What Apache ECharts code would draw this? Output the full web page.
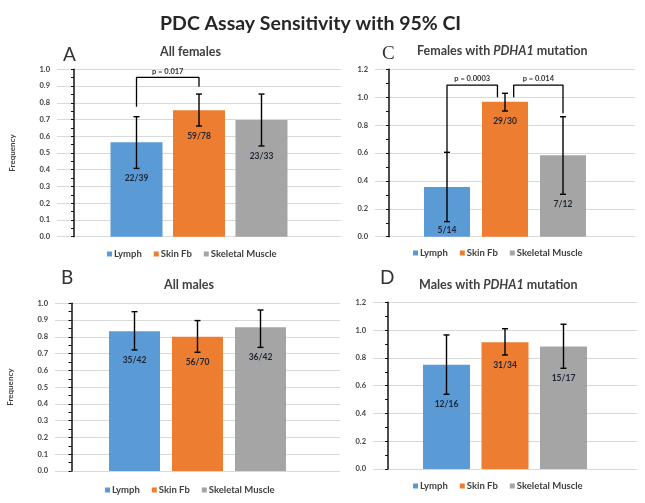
<!DOCTYPE html>
<html><head><meta charset="utf-8">
<script src="https://cdn.jsdelivr.net/npm/echarts@6/dist/echarts.min.js"></script>
<style>html,body{margin:0;padding:0;background:#fff}#c{width:645px;height:503px}</style>
</head><body><div id="c"></div><script>
// ---------- data ----------
const seriesNames = ['Lymph', 'Skin Fb', 'Skeletal Muscle'];
const barPositions = [1, 2, 3];

// A: All females
const fractionsA = ['22/39', '59/78', '23/33'];
const valuesA = [0.564, 0.756, 0.697];
const lowerA = [0.408, 0.661, 0.542];
const upperA = [0.717, 0.852, 0.852];
const bracketsA = [{ p: 'p = 0.017', from: 1, to: 2, top: 0.952, fromEnd: 0.777, toEnd: 0.896 }];

// C: Females with PDHA1 mutation
const fractionsC = ['5/14', '29/30', '7/12'];
const valuesC = [0.357, 0.967, 0.583];
const lowerC = [0.108, 0.901, 0.304];
const upperC = [0.605, 1.028, 0.860];
const bracketsC = [
  { p: 'p = 0.0003', from: 1, to: 1.87, top: 1.087, fromEnd: 0.607, toEnd: 0.999 },
  { p: 'p = 0.014', from: 2.15, to: 3, top: 1.087, fromEnd: 0.999, toEnd: 0.885 }
];

// B: All males
const fractionsB = ['35/42', '56/70', '36/42'];
const valuesB = [0.833, 0.800, 0.857];
const lowerB = [0.722, 0.708, 0.737];
const upperB = [0.950, 0.897, 0.960];
const bracketsB = [];

// D: Males with PDHA1 mutation
const fractionsD = ['12/16', '31/34', '15/17'];
const valuesD = [0.750, 0.912, 0.882];
const lowerD = [0.538, 0.821, 0.725];
const upperD = [0.965, 1.010, 1.042];
const bracketsD = [];

const yTicksAB = { max: 1.0, interval: 0.1 };
const yTicksCD = { max: 1.2, interval: 0.2 };

// ---------- layout / style ----------
const colors = ['#5B9BD5', '#ED7D31', '#A5A5A5'];
const FONT = 'Lato, "Open Sans", sans-serif';

const panels = [
  { letter: 'A', title: '{b|All females}', values: valuesA, lower: lowerA, upper: upperA, fr: fractionsA, br: bracketsA, ticks: yTicksAB, yName: 'Frequency',
    grid: { left: 57, top: 69.3, width: 284, height: 167.4 }, spacing: 62.5, barWidth: 52,
    letterPos: { left: 63, top: 45 }, titlePos: { left: 160, top: 45 }, legendPos: { left: 107, top: 249 } },
  { letter: 'C', title: '{b|Females with }{i|PDHA1}{b| mutation}', values: valuesC, lower: lowerC, upper: upperC, fr: fractionsC, br: bracketsC, ticks: yTicksCD, yName: '',
    grid: { left: 375, top: 69.3, width: 260, height: 167.4 }, spacing: 58, barWidth: 46,
    letterPos: { left: 382, top: 45 }, titlePos: { left: 417, top: 44 }, legendPos: { left: 413, top: 248 } },
  { letter: 'B', title: '{b|All males}', values: valuesB, lower: lowerB, upper: upperB, fr: fractionsB, br: bracketsB, ticks: yTicksAB, yName: 'Frequency',
    grid: { left: 55, top: 303.3, width: 285, height: 167.7 }, spacing: 63, barWidth: 51,
    letterPos: { left: 61, top: 268 }, titlePos: { left: 164, top: 278 }, legendPos: { left: 105, top: 485 } },
  { letter: 'D', title: '{b|Males with }{i|PDHA1}{b| mutation}', values: valuesD, lower: lowerD, upper: upperD, fr: fractionsD, br: bracketsD, ticks: yTicksCD, yName: '',
    grid: { left: 373, top: 302.3, width: 264, height: 166.7 }, spacing: 58.5, barWidth: 47,
    letterPos: { left: 380, top: 268 }, titlePos: { left: 419, top: 278 }, legendPos: { left: 413, top: 481 } }
];

const grids = [], xAxes = [], yAxes = [], series = [], legends = [];
const titles = [{
  text: 'PDC Assay Sensitivity with 95% CI', left: 160, top: 14, padding: 0,
  textStyle: { fontFamily: FONT, fontSize: 19.5, fontWeight: 'bold', color: '#262626' }
}];

panels.forEach((P, k) => {
  grids.push(Object.assign({ containLabel: false }, P.grid));
  const half = P.grid.width / (2 * P.spacing);
  xAxes.push({ type: 'value', gridIndex: k, min: 2 - half, max: 2 + half, show: false });
  yAxes.push({
    type: 'value', gridIndex: k, min: 0, max: P.ticks.max, interval: P.ticks.interval,
    name: P.yName, nameLocation: 'middle', nameGap: 41,
    nameTextStyle: { fontFamily: FONT, fontSize: 8, fontWeight: 'bold', color: '#404040' },
    axisLine: { show: true, lineStyle: { color: '#111', width: 1.5 } },
    axisTick: { show: true, length: 3, lineStyle: { color: '#111' } },
    minorTick: { show: true, splitNumber: 2, length: 3, lineStyle: { color: '#111' } },
    splitLine: { show: true, lineStyle: { color: '#d9d9d9', width: 1 } },
    axisLabel: { fontFamily: FONT, fontSize: 7.5, fontWeight: 'bold', color: '#404040', margin: 7,
      formatter: v => v.toFixed(1) }
  });

  titles.push({ text: P.letter, left: P.letterPos.left, top: P.letterPos.top, padding: 0,
    textStyle: { fontFamily: P.letter === 'C' ? '"Liberation Serif", serif' : FONT, fontSize: 19, fontWeight: 'normal', color: '#333' } });
  titles.push({ text: P.title, left: P.titlePos.left, top: P.titlePos.top, padding: 0,
    textStyle: { rich: {
      b: { fontFamily: FONT, fontSize: 12.5, fontWeight: 'bold', color: '#404040' },
      i: { fontFamily: FONT, fontSize: 12.5, fontWeight: 'bold', fontStyle: 'italic', color: '#404040' }
    } } });

  legends.push({
    data: seriesNames, left: P.legendPos.left, top: P.legendPos.top, orient: 'horizontal',
    icon: 'rect', itemWidth: 5, itemHeight: 5, itemGap: 12, padding: 0, selectedMode: false,
    textStyle: { fontFamily: FONT, fontSize: 9.5, fontWeight: 'bold', color: '#404040', padding: [0, 0, 0, -3] }
  });

  seriesNames.forEach((name, i) => {
    series.push({
      type: 'bar', name, xAxisIndex: k, yAxisIndex: k, barWidth: P.barWidth, barGap: '-100%',
      data: [[barPositions[i], P.values[i]]], itemStyle: { color: colors[i] }, silent: true, animation: false, z: 2
    });
  });

  // error bars
  series.push({
    type: 'custom', xAxisIndex: k, yAxisIndex: k, silent: true, animation: false, z: 5,
    data: barPositions.map((x, i) => [x, P.lower[i], P.upper[i]]),
    encode: { x: 0, y: [1, 2] },
    renderItem: (params, api) => {
      const x = api.value(0);
      const lo = api.coord([x, api.value(1)]);
      const hi = api.coord([x, api.value(2)]);
      const c = 3, st = { stroke: '#000', lineWidth: 1.4 };
      return { type: 'group', children: [
        { type: 'line', shape: { x1: lo[0], y1: lo[1], x2: hi[0], y2: hi[1] }, style: st },
        { type: 'line', shape: { x1: lo[0] - c, y1: lo[1], x2: lo[0] + c, y2: lo[1] }, style: st },
        { type: 'line', shape: { x1: hi[0] - c, y1: hi[1], x2: hi[0] + c, y2: hi[1] }, style: st }
      ] };
    }
  });

  // fraction labels under the lower CI
  series.push({
    type: 'custom', xAxisIndex: k, yAxisIndex: k, silent: true, animation: false, z: 6,
    data: barPositions.map((x, i) => [x, P.lower[i], i]),
    encode: { x: 0, y: 1 },
    renderItem: (params, api) => {
      const x = api.value(0);
      const p = api.coord([x, api.value(1)]);
      const base = api.coord([x, 0])[1];
      return { type: 'text', x: p[0], y: Math.min(p[1] + 10, base - 6),
        style: { text: P.fr[api.value(2)], fill: '#1c2433', font: 'bold 8.5px ' + FONT, align: 'center', verticalAlign: 'middle' } };
    }
  });

  // significance brackets
  P.br.forEach(b => {
    series.push({
      type: 'line', xAxisIndex: k, yAxisIndex: k, silent: true, animation: false, z: 6,
      symbol: 'none', lineStyle: { color: '#000', width: 1.3 },
      data: [[b.from, b.fromEnd], [b.from, b.top], [b.to, b.top], [b.to, b.toEnd]]
    });
  });
  if (P.br.length) {
    series.push({
      type: 'custom', xAxisIndex: k, yAxisIndex: k, silent: true, animation: false, z: 6,
      data: P.br.map((b, j) => [(b.from + b.to) / 2, b.top, j]),
      encode: { x: 0, y: 1 },
      renderItem: (params, api) => {
        const p = api.coord([api.value(0), api.value(1)]);
        return { type: 'text', x: p[0], y: p[1] - 2,
          style: { text: P.br[api.value(2)].p, fill: '#333', font: 'bold 7.5px ' + FONT, align: 'center', verticalAlign: 'bottom' } };
      }
    });
  }
});

const chart = echarts.init(document.getElementById('c'), null, { renderer: 'canvas' });
chart.setOption({
  backgroundColor: '#fff', animation: false,
  title: titles, legend: legends, grid: grids, xAxis: xAxes, yAxis: yAxes, series
});
</script></body></html>
